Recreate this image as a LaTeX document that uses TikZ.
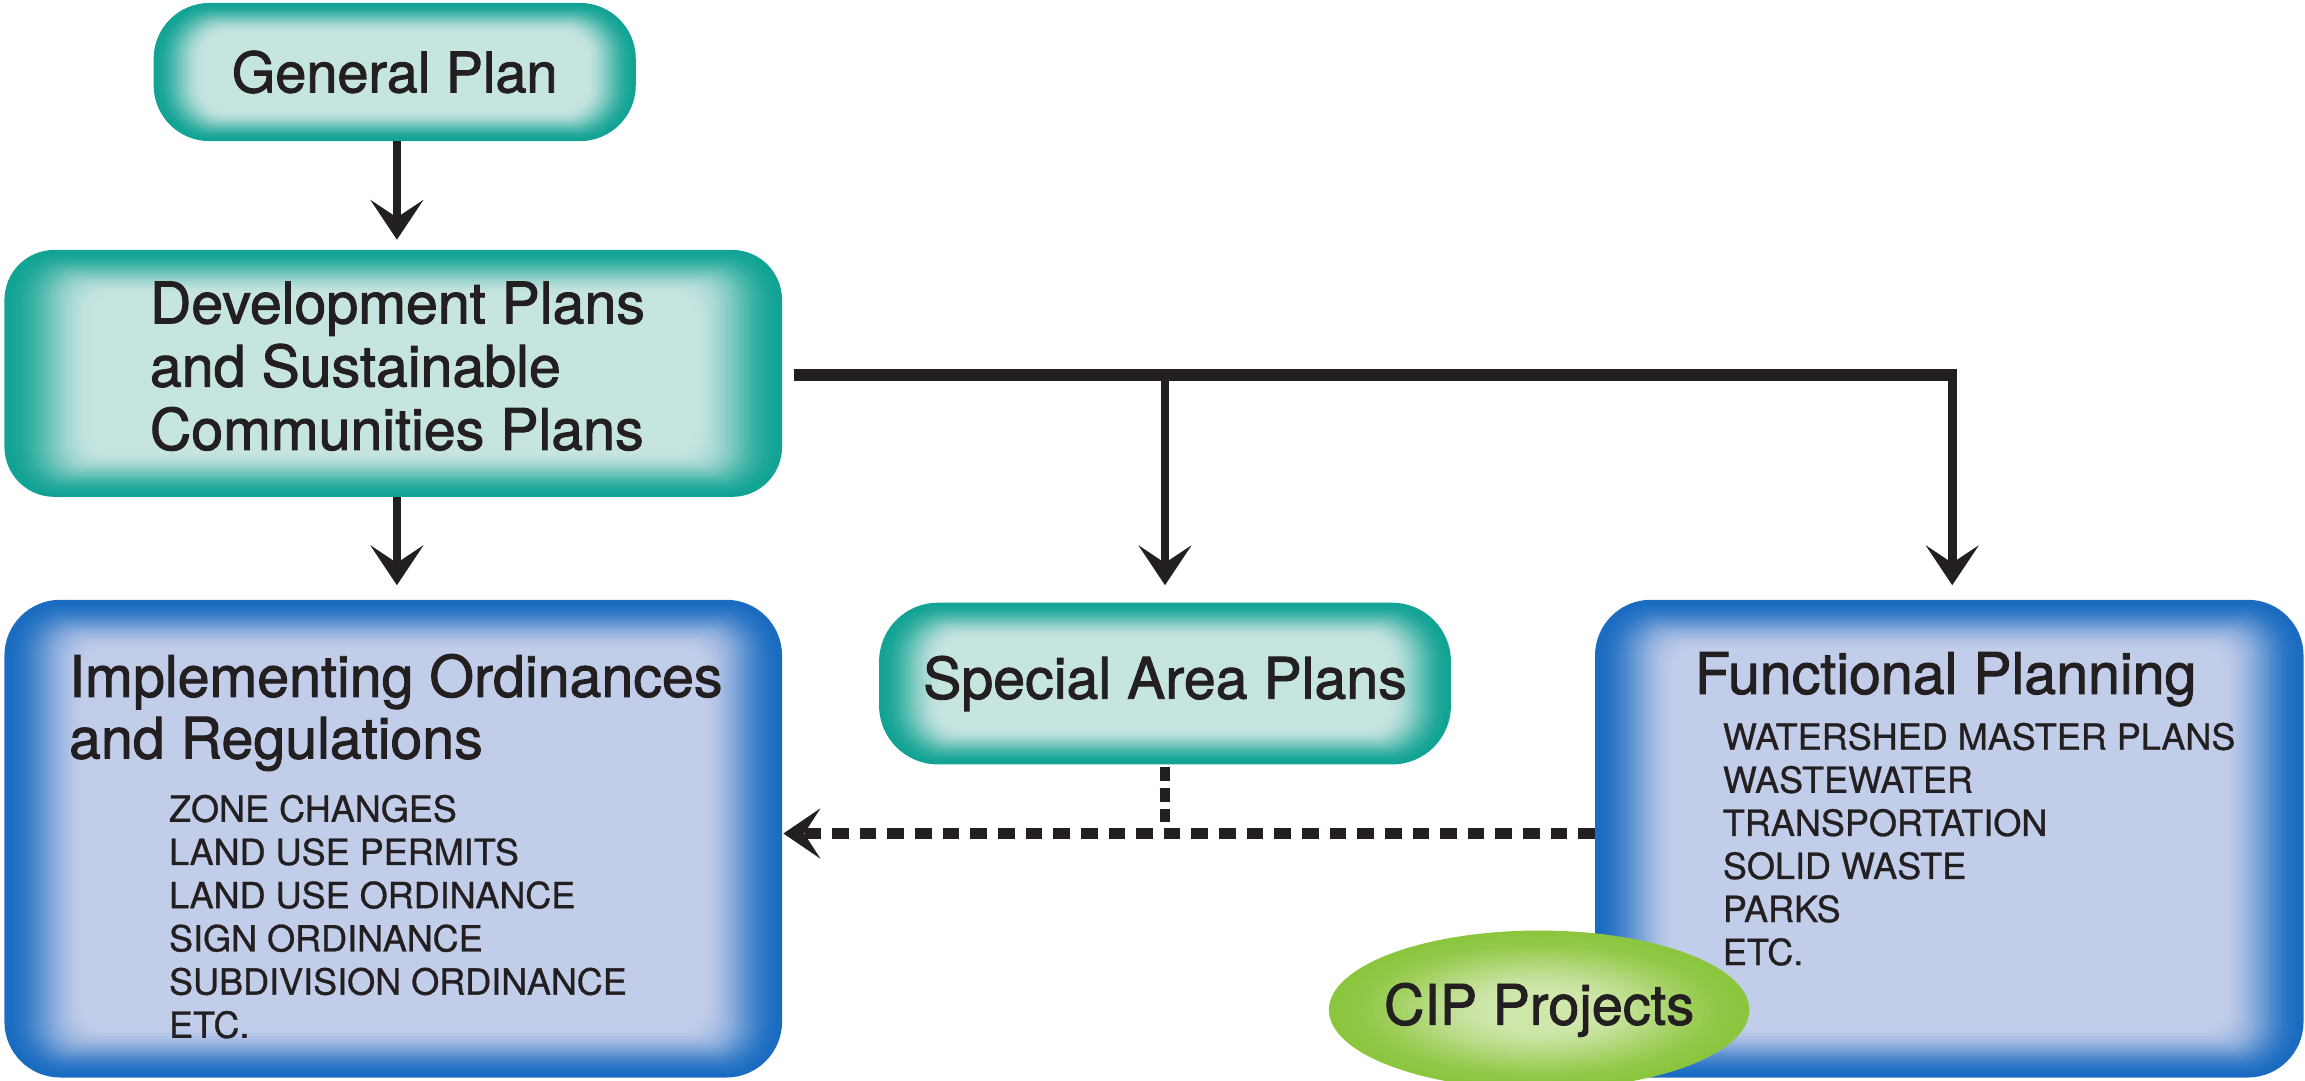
\documentclass[tikz,border=0pt]{standalone}
\usepackage{fontspec}
\setmainfont{TeX Gyre Heros}
\newfontfamily\hdfont{TeX Gyre Heros}[FakeBold=1.6]
\newfontfamily\itfont{TeX Gyre Heros}[FakeBold=0.8]
\usetikzlibrary{arrows.meta,backgrounds,calc,shapes.geometric}

\definecolor{ink}{HTML}{231F20}
\definecolor{tealE}{HTML}{12A394}
\definecolor{tealC}{HTML}{C6E4E0}
\definecolor{blueE}{HTML}{1A6CC1}
\definecolor{blueC}{HTML}{C2CDEA}
\definecolor{greenE}{HTML}{8CC63F}
\definecolor{greenC}{HTML}{D0E7AC}

% soft-edged rounded box behind a named node: node, edge colour, centre colour, radius, dx, dy
\newcommand{\softrect}[6]{%
  \begin{pgfonlayer}{background}
  \foreach \i in {0,...,30}{%
    \pgfmathsetmacro\tt{\i/30}%
    \pgfmathsetmacro\pp{100*(3*\tt*\tt-2*\tt*\tt*\tt)}%
    \pgfmathsetmacro\rr{max(#4-\i*#6/30,#4*0.45)}%
    \fill[#3!\pp!#2, rounded corners=\rr pt]
      ($(#1.south west)+(\i*#5/30,-\i*#6/30)$) rectangle
      ($(#1.north east)+(-\i*#5/30,\i*#6/30)$);
  }
  \end{pgfonlayer}}

% soft-edged ellipse: node, edge, centre, rx, ry, fraction of radius used by the fade
\newcommand{\softellipse}[6]{%
  \begin{pgfonlayer}{background}
  \foreach \i in {0,...,30}{%
    \pgfmathsetmacro\tt{\i/30}%
    \pgfmathsetmacro\pp{100*(3*\tt*\tt-2*\tt*\tt*\tt)}%
    \pgfmathsetmacro\ax{#4*(1-#6*\tt)}%
    \pgfmathsetmacro\ay{#5*(1-#6*\tt)}%
    \fill[#3!\pp!#2] (#1.center) ellipse [x radius=\ax pt, y radius=\ay pt];
  }
  \end{pgfonlayer}}

\begin{document}
\begin{tikzpicture}[x=1pt,y=-1pt,
  every node/.style={inner sep=0pt, outer sep=0pt, text=ink},
  hd/.style={font=\hdfont\fontsize{39}{44}\selectfont},
  itm/.style={font=\itfont\fontsize{24.5}{29}\selectfont, anchor=base west},
  hdl/.style={hd, anchor=base west},
  arr/.style={draw=ink, line width=6pt,
    -{Stealth[length=27pt,width=36pt,inset=12pt,line width=0.01pt]}},
  bar/.style={draw=ink, line width=8pt},
  dashv/.style={draw=ink, line width=6.8pt, dash pattern=on 9.5pt off 4.5pt},
  dashh/.style={draw=ink, line width=7.5pt, dash pattern=on 11.3pt off 7.5pt,
    -{Stealth[length=25pt,width=34pt,inset=11pt,line width=0.01pt]}}
]
\useasboundingbox (0,0) rectangle (1568,735);

% boxes
\node[hd, font=\hdfont\fontsize{38}{44}\selectfont, minimum width=328pt, minimum height=94pt] (gp) at (268.5,49) {General Plan};
\node[minimum width=529pt, minimum height=168pt] (dev) at (267.5,254) {};
\node[minimum width=529pt, minimum height=325pt] (imp) at (267.5,570.5) {};
\node[hd, minimum width=389pt, minimum height=110pt] (sap) at (792.5,465) {Special Area Plans};
\node[minimum width=482pt, minimum height=325pt] (fp) at (1326,570.5) {};
\node[ellipse, minimum width=286pt, minimum height=108pt] (cip) at (1047,687) {};
\node[font=\hdfont\fontsize{38}{44}\selectfont] (ciptxt) at (cip.center) {CIP Projects};

\softrect{gp}{tealE}{tealC}{38}{34}{20}
\softrect{dev}{tealE}{tealC}{34}{60}{30}
\softrect{imp}{blueE}{blueC}{38}{55}{34}
\softrect{sap}{tealE}{tealC}{40}{42}{24}
\softrect{fp}{blueE}{blueC}{38}{55}{34}
\softellipse{cip}{greenE}{greenC}{143}{54}{0.8}

% texts
\node[hdl] (dev1) at (102,220) {Development Plans};
\node[hdl] (dev2) at (102,263) {and Sustainable};
\node[hdl] (dev3) at (102,306) {Communities Plans};

\node[hdl] (imp1) at (47,474) {Implementing Ordinances};
\node[hdl] (imp2) at (47,516) {and Regulations};
\foreach \t [count=\k] in {ZONE CHANGES, LAND USE PERMITS, LAND USE ORDINANCE,
  SIGN ORDINANCE, SUBDIVISION ORDINANCE, ETC.}
  \node[itm] (impi\k) at (115,{559+(\k-1)*29.4}) {\t};

\node[hdl] (fp1) at (1153,472) {Functional Planning};
\foreach \t [count=\k] in {WATERSHED MASTER PLANS, WASTEWATER, TRANSPORTATION,
  SOLID WASTE, PARKS, ETC.}
  \node[itm] (fpi\k) at (1172,{510+(\k-1)*29.3}) {\t};

% connectors
\coordinate (j0) at (270,96);
\coordinate (j1) at (792.5,255);
\coordinate (j2) at (1328,255);
\coordinate (jd) at (792.5,567);

\draw[arr] (j0) -- ([yshift=7pt]dev.north -| j0);
\draw[arr] (dev.south -| j0) -- ([yshift=10pt]imp.north -| j0);
\draw[bar] ([xshift=8pt]dev.east |- j1) -- ([xshift=3pt]j2);
\draw[arr] ([yshift=-2pt]j1) -- ([yshift=12pt]sap.north);
\draw[arr] ([yshift=-2pt]j2) -- ($(j2 |- fp.north)+(0,-10)$);

\draw[dashv] ([yshift=-2pt]sap.south) -- ([yshift=6pt]jd);
\draw[dashh] (fp.west |- jd) -- ([xshift=1pt]imp.east |- jd);
\end{tikzpicture}
\end{document}
